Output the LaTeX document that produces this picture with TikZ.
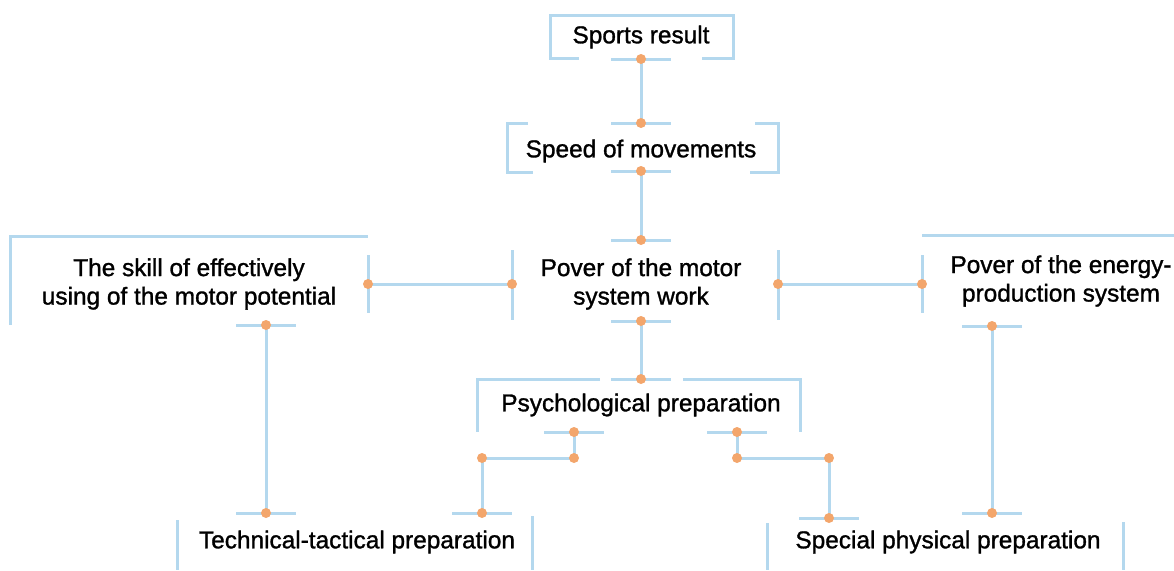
\documentclass[tikz,border=0pt]{standalone}
\usepackage{fontspec}
\setmainfont{Liberation Sans}[
    BoldFont=Liberation Sans,
    BoldFeatures={FakeBold=1.2}
]
\usetikzlibrary{
    calc
}
\definecolor{lineblue}{HTML}{B4D8EE}
\definecolor{dotorange}{HTML}{F3A66C}
\tikzset{
  every path/.style={
    lineblue,
    line width=3pt
  },
  lbl/.style={
    text=black,
    align=center,
    inner sep=0pt,
    font=\fontsize{24.4}{28.5}\selectfont\bfseries
  }
}

\begin{document}
\begin{tikzpicture}[x=1pt,y=-1pt]

    \useasboundingbox (0,0) rectangle (1174,570);

    % ports
    \coordinate (sr-b) at (641,59);
    \coordinate (sp-t) at (641,123);
    \coordinate (sp-b) at (641,171);
    \coordinate (pw-t) at (641,240);
    \coordinate (pw-l) at (512,284);
    \coordinate (pw-r) at (778,284);
    \coordinate (pw-b) at (641,321);
    \coordinate (sk-r) at (368,284);
    \coordinate (sk-b) at (266,325);
    \coordinate (en-l) at (922,284);
    \coordinate (en-b) at (992,326);
    \coordinate (ps-t) at (641,379);
    \coordinate (ps-bl) at (574,432);
    \coordinate (ps-br) at (737,432);
    \coordinate (bl-1) at (574,458);
    \coordinate (bl-2) at (482,458);
    \coordinate (br-1) at (737,458);
    \coordinate (br-2) at (829,458);
    \coordinate (tt-a) at (482,513);
    \coordinate (tt-b) at (266,513);
    \coordinate (ph-a) at (829,518);
    \coordinate (ph-b) at (992,513);

    % texts
    \node[lbl] (sports) at (641,37) {Sports result};
    \node[lbl] (speed) at (641,151) {Speed of movements};
    \node[lbl] (skill) at (189,284) {The skill of effectively\\using of the motor potential};
    \node[lbl] (power) at (641,284) {Pover of the motor\\system work};
    \node[lbl] (energy) at (1061,281) {Pover of the energy-\\production system};
    \node[lbl] (psych) at (641,405) {Psychological preparation};
    \node[lbl] (tech) at (357,542) {Technical-tactical preparation};
    \node[lbl] (special) at (948,542) {Special physical preparation};

    % frames
    \draw (579,58) -- (550,58) -- (550,15) -- (733,15) -- (733,58) -- (702,58);
    \draw (528,123) -- (507,123) -- (507,172) -- (533,172);
    \draw (755,123) -- (778,123) -- (778,172) -- (750,172);
    \draw (10,325) -- (10,236) -- (368,236);
    \draw (922,235) -- (1174,235);
    \draw (600,379) -- (477,379) -- (477,432);
    \draw (683,379) -- (800,379) -- (800,432);
    \draw (177,520) -- (177,570);
    \draw (532,516) -- (532,570);
    \draw (767,523) -- (767,570);
    \draw (1123,522) -- (1123,570);

    % horizontal ticks
    \foreach \p in {sr-b,sp-t,sp-b,pw-t,pw-b,sk-b,en-b,ps-t,ps-bl,ps-br,tt-a,tt-b,ph-a,ph-b}
        \draw ([xshift=-30pt]\p) -- ([xshift=30pt]\p);

    % vertical ticks
    \draw ([yshift=34pt]pw-l) -- ([yshift=-36pt]pw-l);
    \draw ([yshift=34pt]pw-r) -- ([yshift=-36pt]pw-r);
    \draw ([yshift=29pt]sk-r) -- ([yshift=-29pt]sk-r);
    \draw ([yshift=29pt]en-l) -- ([yshift=-29pt]en-l);

    % connectors
    \draw (sr-b) -- (sp-t);
    \draw (sp-b) -- (pw-t);
    \draw (pw-l) -- (sk-r);
    \draw (pw-r) -- (en-l);
    \draw (pw-b) -- (ps-t);
    \draw (ps-bl) -- (bl-1) -- (bl-2) -- (tt-a);
    \draw (ps-br) -- (br-1) -- (br-2) -- (ph-a);
    \draw (sk-b) -- (tt-b);
    \draw (en-b) -- (ph-b);

    % dots
    \foreach \p in {sr-b,sp-t,sp-b,pw-t,pw-l,pw-r,pw-b,sk-r,sk-b,en-l,en-b,ps-t,ps-bl,ps-br,bl-1,bl-2,br-1,br-2,tt-a,tt-b,ph-a,ph-b}
        \fill[dotorange] (\p) circle (5pt);

\end{tikzpicture}
\end{document}
